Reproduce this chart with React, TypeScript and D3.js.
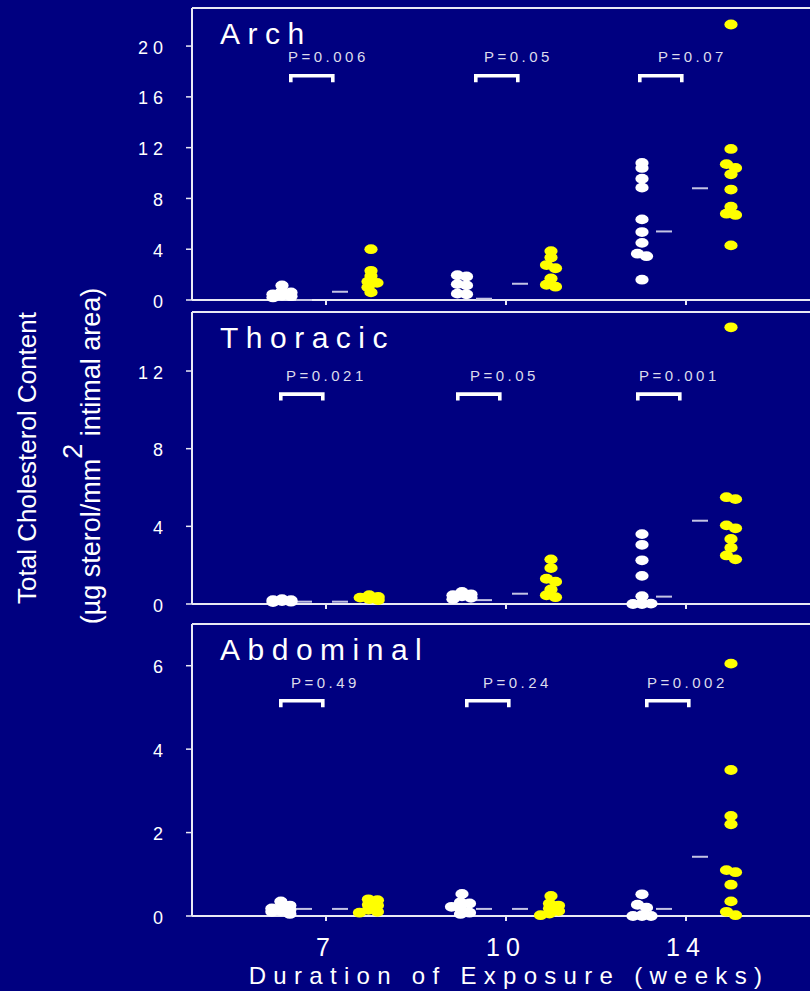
import React from "react";
import * as d3 from "d3";

// Exposure durations (weeks)
const weeks = ["7", "10", "14"];

// Aortic arch: control (white) and exposed (yellow) animals
const archControl7 = [1.15, 0.7, 0.6, 0.45, 0.35, 0.3, 0.2];
const archExposed7 = [4.0, 2.3, 1.9, 1.45, 1.35, 1.0, 0.6];
const archControl10 = [1.95, 1.85, 1.25, 1.15, 0.5, 0.45];
const archExposed10 = [3.85, 3.35, 2.75, 2.5, 1.7, 1.2, 1.05];
const archControl14 = [10.8, 10.4, 9.55, 8.85, 6.35, 5.35, 4.5, 3.65, 3.45, 1.6];
const archExposed14 = [21.7, 11.9, 10.7, 10.4, 9.9, 8.7, 7.35, 6.8, 6.7, 4.3];
const archControlMean = [0.0, 0.1, 5.4];
const archExposedMean = [0.65, 1.28, 8.8];
const archP = ["0.006", "0.05", "0.07"];
const archTicks = [0, 4, 8, 12, 16, 20];

// Thoracic aorta
const thoracicControl7 = [0.25, 0.2, 0.2, 0.15, 0.12, 0.1];
const thoracicExposed7 = [0.45, 0.36, 0.33, 0.25, 0.2];
const thoracicControl10 = [0.62, 0.5, 0.45, 0.4, 0.32, 0.25];
const thoracicExposed10 = [2.3, 1.85, 1.3, 1.15, 0.75, 0.45, 0.35];
const thoracicControl14 = [3.6, 3.05, 2.25, 1.45, 0.4, 0.05, 0.02, 0.0, 0.0];
const thoracicExposed14 = [14.25, 5.5, 5.4, 4.05, 3.9, 3.35, 2.9, 2.5, 2.3];
const thoracicControlMean = [0.12, 0.2, 0.38];
const thoracicExposedMean = [0.12, 0.53, 4.29];
const thoracicP = ["0.021", "0.05", "0.001"];
const thoracicTicks = [0, 4, 8, 12];

// Abdominal aorta
const abdominalControl7 = [0.35, 0.25, 0.22, 0.18, 0.15, 0.12, 0.1, 0.05];
const abdominalExposed7 = [0.4, 0.38, 0.27, 0.25, 0.15, 0.1, 0.08];
const abdominalControl10 = [0.53, 0.33, 0.3, 0.22, 0.18, 0.08, 0.05];
const abdominalExposed10 = [0.48, 0.3, 0.25, 0.18, 0.12, 0.06, 0.02];
const abdominalControl14 = [0.52, 0.27, 0.2, 0.02, 0.0, 0.0, 0.0];
const abdominalExposed14 = [6.05, 3.5, 2.4, 2.2, 1.1, 1.05, 0.75, 0.35, 0.1, 0.02];
const abdominalControlMean = [0.17, 0.17, 0.17];
const abdominalExposedMean = [0.17, 0.17, 1.42];
const abdominalP = ["0.49", "0.24", "0.002"];
const abdominalTicks = [0, 2, 4, 6];

const W = 810;
const H = 991;
const FONT = "'Liberation Sans', Arial, Helvetica, sans-serif";
const NAVY = "#000080";
const LINE = "#e8e8f4";
const MEAN = "#c4c4e4";
const FRAME_LEFT = 192;

type Panel = {
  title: string;
  top: number;
  bottom: number;
  max: number;
  ticks: number[];
  control: number[][];
  exposed: number[][];
  controlMean: number[];
  exposedMean: number[];
  pValues: string[];
  pY: number;
  bracketY: number;
  bracketDx: number[];
  labelDx: number[];
};

const panels: Panel[] = [
  {
    title: "Arch",
    top: 8,
    bottom: 300,
    max: 23,
    ticks: archTicks,
    control: [archControl7, archControl10, archControl14],
    exposed: [archExposed7, archExposed10, archExposed14],
    controlMean: archControlMean,
    exposedMean: archExposedMean,
    pValues: archP,
    pY: 62.3,
    bracketY: 74,
    bracketDx: [-37, -32, -48],
    labelDx: [-38, -22, -28],
  },
  {
    title: "Thoracic",
    top: 312,
    bottom: 604,
    max: 15.04,
    ticks: thoracicTicks,
    control: [thoracicControl7, thoracicControl10, thoracicControl14],
    exposed: [thoracicExposed7, thoracicExposed10, thoracicExposed14],
    controlMean: thoracicControlMean,
    exposedMean: thoracicExposedMean,
    pValues: thoracicP,
    pY: 380.7,
    bracketY: 392.3,
    bracketDx: [-47, -50, -50],
    labelDx: [-40, -36, -47],
  },
  {
    title: "Abdominal",
    top: 624,
    bottom: 916,
    max: 7.0,
    ticks: abdominalTicks,
    control: [abdominalControl7, abdominalControl10, abdominalControl14],
    exposed: [abdominalExposed7, abdominalExposed10, abdominalExposed14],
    controlMean: abdominalControlMean,
    exposedMean: abdominalExposedMean,
    pValues: abdominalP,
    pY: 687.7,
    bracketY: 699,
    bracketDx: [-47, -41, -41],
    labelDx: [-35, -23, -39],
  },
];

const x = d3.scalePoint<string>().domain(weeks).range([326, 686]);
const CONTROL_DX = -44;
const EXPOSED_DX = 45;

type Dot = { v: number; y: number; dx: number };

// Spread points that would sit on top of each other into side-by-side columns
function dodge(values: number[], y: (v: number) => number, step = 9, minDy = 5): Dot[] {
  const pts: Dot[] = values.map((v) => ({ v, y: y(v), dx: 0 })).sort((a, b) => a.y - b.y);
  const placed: Dot[] = [];
  const cands = [0, step, -step];
  for (const p of pts) {
    let best = 0;
    let bestScore = -Infinity;
    for (const c of cands) {
      const same = placed.filter((q) => Math.abs(q.dx - c) < step * 0.5);
      const minD = same.length ? Math.min(...same.map((q) => Math.abs(q.y - p.y))) : Infinity;
      if (minD >= minDy) {
        best = c;
        break;
      }
      if (minD > bestScore) {
        bestScore = minD;
        best = c;
      }
    }
    p.dx = best;
    placed.push(p);
  }
  let i = 0;
  while (i < pts.length) {
    let j = i;
    while (j + 1 < pts.length && pts[j + 1].y - pts[j].y < minDy) j++;
    const run = pts.slice(i, j + 1);
    const m = d3.mean(run, (d) => d.dx) ?? 0;
    run.forEach((d) => (d.dx -= m));
    i = j + 1;
  }
  return pts;
}

function PanelView({ p }: { p: Panel }) {
  const y = d3.scaleLinear().domain([0, p.max]).range([p.bottom, p.top]);
  return (
    <g>
      {/* frame */}
      <line x1={FRAME_LEFT} x2={W + 2} y1={p.top} y2={p.top} stroke={LINE} strokeWidth={2} />
      <line x1={FRAME_LEFT} x2={W + 2} y1={p.bottom} y2={p.bottom} stroke={LINE} strokeWidth={2} />
      <line x1={FRAME_LEFT} x2={FRAME_LEFT} y1={p.top} y2={p.bottom} stroke={LINE} strokeWidth={2} />

      {/* y axis */}
      {p.ticks.map((t) => (
        <g key={t}>
          <line x1={FRAME_LEFT - 6} x2={FRAME_LEFT} y1={y(t)} y2={y(t)} stroke={LINE} strokeWidth={1.5} />
          <text
            x={168}
            y={y(t) + 7.5}
            textAnchor="end"
            fontSize={18}
            letterSpacing={5}
            fill="#ffffff"
            fontFamily={FONT}
          >
            {t}
          </text>
        </g>
      ))}

      {/* x ticks */}
      {weeks.map((w) => (
        <line key={w} x1={x(w)!} x2={x(w)!} y1={p.bottom} y2={p.bottom + 5} stroke={LINE} strokeWidth={2} />
      ))}

      {/* panel title */}
      <text x={220} y={p.top + 35.5} fontSize={30} letterSpacing={7.5} fill="#ffffff" fontFamily={FONT}>
        {p.title}
      </text>

      {/* significance brackets */}
      {weeks.map((w, i) => {
        const cx = x(w)!;
        const x1 = cx + p.bracketDx[i] + 1.8;
        const x2 = x1 + 42;
        const b = p.bracketY;
        return (
          <g key={w}>
            <text
              x={cx + p.labelDx[i]}
              y={p.pY}
              fontSize={15}
              letterSpacing={3.5}
              fill="#dcdcec"
              fontFamily={FONT}
            >
              {`P=${p.pValues[i]}`}
            </text>
            <path
              d={`M${x1},${b + 8.3} V${b + 1.8} H${x2} V${b + 8.3}`}
              fill="none"
              stroke="#ffffff"
              strokeWidth={3.6}
              strokeLinejoin="miter"
            />
          </g>
        );
      })}

      {/* group means */}
      {weeks.map((w, i) => (
        <g key={w}>
          <line
            x1={x(w)! - 30}
            x2={x(w)! - 14}
            y1={y(p.controlMean[i])}
            y2={y(p.controlMean[i])}
            stroke={MEAN}
            strokeWidth={2}
          />
          <line
            x1={x(w)! + 6}
            x2={x(w)! + 22}
            y1={y(p.exposedMean[i])}
            y2={y(p.exposedMean[i])}
            stroke={MEAN}
            strokeWidth={2}
          />
        </g>
      ))}

      {/* individual animals */}
      {weeks.map((w, i) => (
        <g key={w}>
          {dodge(p.control[i], y).map((d, k) => (
            <ellipse key={`c${k}`} cx={x(w)! + CONTROL_DX + d.dx} cy={d.y} rx={6.6} ry={4.9} fill="#ffffff" />
          ))}
          {dodge(p.exposed[i], y).map((d, k) => (
            <ellipse key={`e${k}`} cx={x(w)! + EXPOSED_DX + d.dx} cy={d.y} rx={6.6} ry={4.9} fill="#ffff00" />
          ))}
        </g>
      ))}
    </g>
  );
}

export default function App() {
  const bottom = panels[panels.length - 1].bottom;
  return (
    <div style={{ position: "absolute", left: 0, top: 0, width: W, height: H, overflow: "hidden" }}>
      <svg width={W} height={H} viewBox={`0 0 ${W} ${H}`} style={{ display: "block" }}>
        <rect x={0} y={0} width={W} height={H} fill={NAVY} />
        {panels.map((p) => (
          <PanelView key={p.title} p={p} />
        ))}

        {/* x tick labels */}
        {weeks.map((w) => (
          <text
            key={w}
            x={x(w)!}
            y={bottom + 39.5}
            textAnchor="middle"
            fontSize={25}
            letterSpacing={6}
            fill="#ffffff"
            fontFamily={FONT}
          >
            {w}
          </text>
        ))}
        <text
          x={509}
          y={983.5}
          textAnchor="middle"
          fontSize={24}
          letterSpacing={7.3}
          fill="#ffffff"
          fontFamily={FONT}
        >
          Duration of Exposure (weeks)
        </text>

        {/* y axis title */}
        <text
          transform="translate(36,458) rotate(-90)"
          textAnchor="middle"
          fontSize={26}
          fill="#ffffff"
          fontFamily={FONT}
        >
          Total Cholesterol Content
        </text>
        <text
          transform="translate(100,456) rotate(-90)"
          textAnchor="middle"
          fontSize={27}
          fill="#ffffff"
          fontFamily={FONT}
        >
          {"(\u00b5g sterol/mm"}
          <tspan dy={-18}>2</tspan>
          <tspan dy={18}>{" intimal area)"}</tspan>
        </text>
      </svg>
    </div>
  );
}
